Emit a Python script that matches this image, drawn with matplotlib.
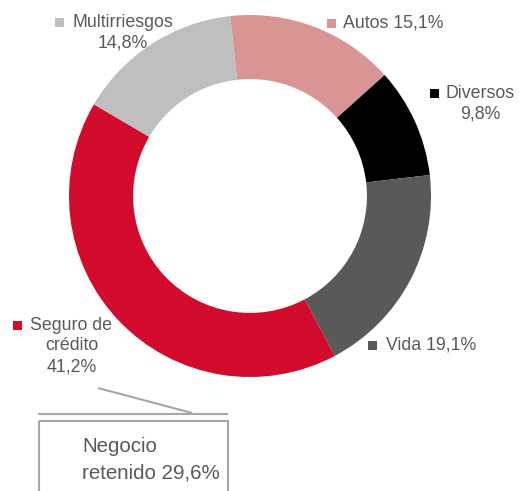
import matplotlib
matplotlib.use("Agg")
import matplotlib.pyplot as plt
from matplotlib.patches import Rectangle

plt.rcParams["font.family"] = ["Liberation Sans", "DejaVu Sans"]

# data
categorias = ["Autos", "Diversos", "Vida", "Seguro de crédito", "Multirriesgos"]
valores = [15.1, 9.8, 19.1, 41.2, 14.8]
colores = ["#D99594", "#000000", "#595959", "#D20A2C", "#BFBFBF"]
retenido = 29.6

txt_color = "#595959"
W, H = 519, 491


def pct(v):
    return f"{v:.1f}".replace(".", ",") + "%"


fig = plt.figure(figsize=(W / 100, H / 100), dpi=100)

# donut axes (pixel geometry)
cx, cy, r = 250, 196, 181
ax = fig.add_axes([(cx - r) / W, (H - cy - r) / H, 2 * r / W, 2 * r / H])
ax.pie(
    valores,
    colors=colores,
    startangle=96.3,
    counterclock=False,
    radius=1,
    wedgeprops=dict(width=0.354, edgecolor="none"),
)
ax.set_xlim(-1, 1)
ax.set_ylim(-1, 1)
ax.axis("off")

# overlay in pixel coordinates for labels
ov = fig.add_axes([0, 0, 1, 1])
ov.set_xlim(0, W)
ov.set_ylim(H, 0)
ov.axis("off")
ov.patch.set_alpha(0)

fs = 12.8
lh = 21

# (text center x, first line y, marker x, lines)
label_pos = {
    "Autos": (393.5, 23, 327, [f"Autos {pct(valores[0])}"]),
    "Diversos": (480, 93, 430, ["Diversos", pct(valores[1])]),
    "Vida": (431.5, 345, 368, [f"Vida {pct(valores[2])}"]),
    "Seguro de crédito": (71.5, 325, 13, ["Seguro de", "crédito", pct(valores[3])]),
    "Multirriesgos": (122.5, 22, 55, ["Multirriesgos", pct(valores[4])]),
}

for cat, col in zip(categorias, colores):
    tx, ty, mx, lines = label_pos[cat]
    for i, line in enumerate(lines):
        ov.text(tx, ty + i * lh, line, ha="center", va="center",
                fontsize=fs, color=txt_color)
    ov.add_patch(Rectangle((mx, ty - 4), 8.5, 8.5, color=col, lw=0))

# retained business box
gray = "#A6A6A6"
ov.plot([98, 192], [388, 413], color=gray, lw=1.5, solid_capstyle="butt")
ov.plot([38, 228], [414, 414], color=gray, lw=1.5, solid_capstyle="butt")
ov.add_patch(Rectangle((38.5, 420.5), 189, 90, fill=False, edgecolor=gray, lw=1.5))
ov.text(82, 447, "Negocio", ha="left", va="center", fontsize=14.8, color=txt_color)
ov.text(82, 473, f"retenido {pct(retenido)}", ha="left", va="center",
        fontsize=14.8, color=txt_color)

fig.savefig("out.png", dpi=100)
